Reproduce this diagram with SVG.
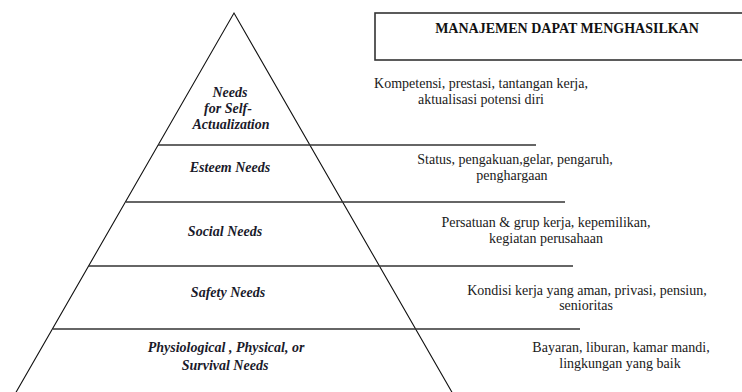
<svg xmlns="http://www.w3.org/2000/svg" width="742" height="392" viewBox="0 0 742 392">
<style>
text{font-family:'Liberation Serif','Times New Roman',Times,'DejaVu Serif',serif;text-anchor:middle}
.lvl{font-size:14px;font-weight:bold;font-style:italic;fill:#1a1a2a}
.desc{font-size:14px;fill:#1a1a1a}
.title{font-size:14px;font-weight:bold;fill:#111}
.sep{stroke:#333;stroke-width:1.6;fill:none}
.edge{stroke:#111;stroke-width:1.1;fill:none}
</style>
<rect width="742" height="392" fill="#fff"/>
<g id="pyramid">
<polyline class="edge" points="11,401 234,13 457,401"/>
<line class="sep" x1="158" y1="145" x2="536" y2="145"/>
<line class="sep" x1="126" y1="202" x2="565" y2="202"/>
<line class="sep" x1="89" y1="266" x2="573" y2="266"/>
<line class="sep" x1="53" y1="329" x2="580" y2="329"/>
</g>
<g id="header">
<rect x="375" y="13" width="380" height="47" fill="none" stroke="#333" stroke-width="1.6"/>
<text class="title" x="567" y="33">MANAJEMEN DAPAT MENGHASILKAN</text>
</g>
<g id="self-actualization">
<text class="lvl" x="230" y="97">Needs</text>
<text class="lvl" x="228" y="113">for Self-</text>
<text class="lvl" x="231" y="129">Actualization</text>
<text class="desc" x="481" y="88">Kompetensi, prestasi, tantangan kerja,</text>
<text class="desc" x="481" y="104">aktualisasi potensi diri</text>
</g>
<g id="esteem">
<text class="lvl" x="230" y="172">Esteem Needs</text>
<text class="desc" x="515" y="164">Status, pengakuan,gelar, pengaruh,</text>
<text class="desc" x="512" y="180">penghargaan</text>
</g>
<g id="social">
<text class="lvl" x="225" y="236">Social Needs</text>
<text class="desc" x="546" y="227">Persatuan &amp; grup kerja, kepemilikan,</text>
<text class="desc" x="546" y="243">kegiatan perusahaan</text>
</g>
<g id="safety">
<text class="lvl" x="228" y="297">Safety Needs</text>
<text class="desc" x="587" y="295">Kondisi kerja yang aman, privasi, pensiun,</text>
<text class="desc" x="586" y="310">senioritas</text>
</g>
<g id="physiological">
<text class="lvl" x="226" y="352">Physiological , Physical, or</text>
<text class="lvl" x="225" y="370">Survival Needs</text>
<text class="desc" x="621" y="352">Bayaran, liburan, kamar mandi,</text>
<text class="desc" x="620" y="368">lingkungan yang baik</text>
</g>
<g id="connectors"/>
</svg>
